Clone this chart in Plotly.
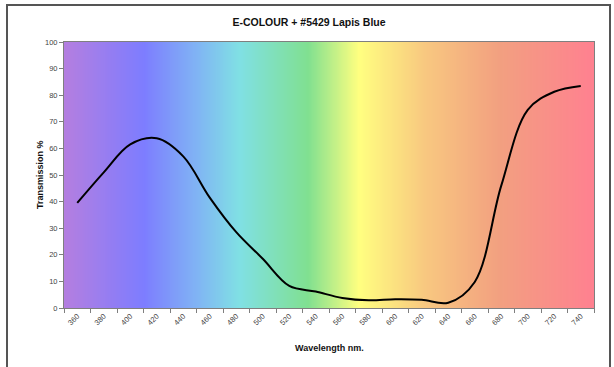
import numpy as np
import plotly.graph_objects as go

# ---- data ----
wavelengths = [360, 380, 400, 420, 440, 460, 480, 500, 520, 540,
               560, 580, 600, 620, 640, 660, 680, 700, 720, 740]
transmission = [39.5, 51, 61.5, 63.8, 57, 41.5, 28.5, 18.5, 8.3, 6.2,
                3.8, 2.9, 3.3, 3.1, 2.0, 9.8, 46, 74.5, 81.3, 83.5]
tick_labels = [str(w) for w in wavelengths]
y_ticks = list(range(0, 101, 10))

title_text = "E-COLOUR + #5429 Lapis Blue"
x_title = "Wavelength nm."
y_title = "Transmission %"

# ---- style: spectrum background stops (fraction across plot, colour) ----
spectrum_stops = [
    [0.00, "#b47ee0"],
    [0.15, "#7d7dff"],
    [0.25, "#80b4f4"],
    [0.33, "#80e0e4"],
    [0.46, "#80e090"],
    [0.555, "#ffff80"],
    [0.68, "#f8c880"],
    [0.82, "#f2a080"],
    [1.00, "#ff8090"],
]

x_lo, x_hi = 350, 750
bg_x = np.linspace(x_lo, x_hi, 161)
bg_z = [list((bg_x - x_lo) / (x_hi - x_lo))] * 2

fig = go.Figure()
fig.add_trace(go.Heatmap(
    x=bg_x, y=[0, 100], z=bg_z, colorscale=spectrum_stops,
    zmin=0, zmax=1, zsmooth="best", showscale=False, hoverinfo="skip",
))
fig.add_trace(go.Scatter(
    x=wavelengths, y=transmission, mode="lines",
    line=dict(color="black", width=2, shape="spline", smoothing=1.0),
    hoverinfo="x+y",
))

W, H = 614, 367
L, R, T, B = 64, 20, 42, 59
pw, ph = W - L - R, H - T - B

def px(x):
    return (x - L) / pw

def py(y):
    return (H - B - y) / ph

fig.update_layout(
    width=W, height=H,
    margin=dict(l=L, r=R, t=T, b=B),
    paper_bgcolor="white", plot_bgcolor="white",
    showlegend=False,
    font=dict(family="Liberation Sans, Arial, sans-serif", color="#333333"),
    title=dict(text="<b>%s</b>" % title_text, xref="paper", x=px(309), xanchor="center",
               yref="container", y=1 - 22 / H, yanchor="middle",
               font=dict(size=10.5, color="#111111")),
)
fig.update_xaxes(
    range=[x_lo, x_hi], tickmode="array", tickvals=wavelengths, ticktext=tick_labels,
    ticks="", tickangle=-45, tickfont=dict(size=7.5, color="#444444"),
    showgrid=False, zeroline=False,
    showline=True, linecolor="#7f7f7f", linewidth=1, mirror=True,
    minor=dict(tickmode="array", tickvals=list(range(350, 751, 20)), ticks="outside",
               ticklen=4, tickcolor="#7f7f7f", showgrid=False),
)
fig.update_yaxes(
    range=[0, 100], tickmode="array", tickvals=y_ticks,
    ticks="outside", ticklen=4, tickcolor="#7f7f7f",
    tickfont=dict(size=7.5, color="#444444"),
    showgrid=True, gridcolor="rgba(80,80,80,0.7)", gridwidth=1, zeroline=False,
    showline=True, linecolor="#7f7f7f", linewidth=1, mirror=True,
)

fig.add_annotation(text="<b>%s</b>" % y_title, xref="paper", yref="paper",
                   x=px(33), y=0.5, textangle=-90, showarrow=False,
                   font=dict(size=9, color="#111111"))
fig.add_annotation(text="<b>%s</b>" % x_title, xref="paper", yref="paper",
                   x=0.5, y=py(348), showarrow=False, yanchor="middle",
                   font=dict(size=9, color="#111111"))

# chart-area frame
fig.add_shape(type="rect", xref="paper", yref="paper",
              x0=px(7), x1=px(610), y0=py(420), y1=py(5),
              line=dict(color="#555555", width=2), fillcolor="rgba(0,0,0,0)", layer="below")

fig.write_html("out.html")
